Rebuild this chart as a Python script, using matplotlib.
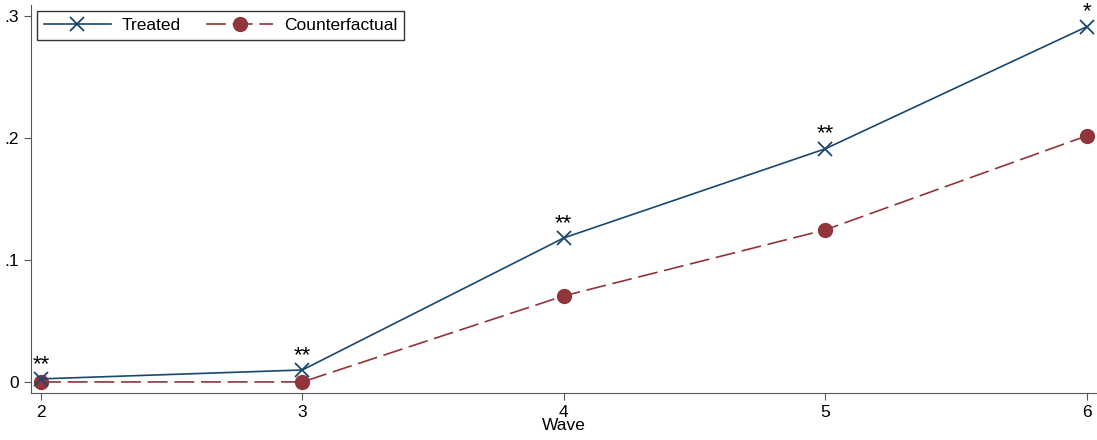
import matplotlib.pyplot as plt

waves = [2, 3, 4, 5, 6]
treated = [0.0025, 0.0098, 0.118, 0.191, 0.291]
counterfactual = [0.0, 0.0, 0.0705, 0.1246, 0.2016]
stars = ['**', '**', '**', '**', '*']
yticks = [0, 0.1, 0.2, 0.3]
ylabels = ['0', '.1', '.2', '.3']

plt.rcParams['font.family'] = ['Liberation Sans', 'DejaVu Sans']

fig = plt.figure(figsize=(10.97, 4.40), dpi=100)
ax = fig.add_axes([0.0283, 0.107, 0.9717, 0.882])

navy = '#1a476f'
maroon = '#90353b'

ax.plot(waves, treated, color=navy, lw=1.2, marker='x', ms=10, mew=1.3, label='Treated', zorder=3)
ax.plot(waves, counterfactual, color=maroon, lw=1.2, ls=(0, (12, 4)), marker='o', ms=10,
        label='Counterfactual', zorder=2)

for x, y, s in zip(waves, treated, stars):
    ax.annotate(s, (x, y), xytext=(0, 3), textcoords='offset points', ha='center', va='bottom', fontsize=16)

ax.set_xlim(1.962, 6.04)
ax.set_ylim(-0.009, 0.309)
ax.set_xticks(waves)
ax.set_yticks(yticks)
ax.set_yticklabels(ylabels)
ax.tick_params(labelsize=12.5, length=5, color='#555555')
ax.set_xlabel('Wave', fontsize=12.5, labelpad=-1)
for side in ['top', 'right']:
    ax.spines[side].set_visible(False)
for side in ['left', 'bottom']:
    ax.spines[side].set_color('#555555')

leg = ax.legend(loc='upper left', ncol=2, fontsize=12.5, frameon=True, fancybox=False,
                edgecolor='black', borderaxespad=0.35, handlelength=3.85, handletextpad=0.6,
                columnspacing=1.5)
leg.get_frame().set_linewidth(1.0)

fig.savefig('out.png', dpi=100)
